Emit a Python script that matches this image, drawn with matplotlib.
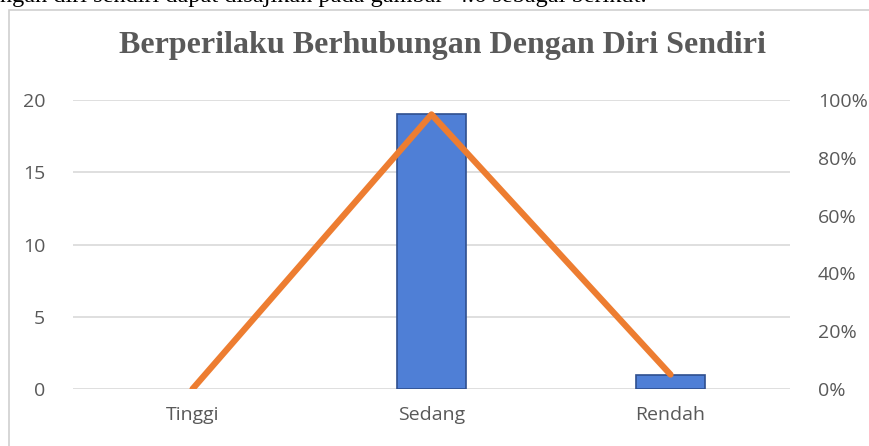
import matplotlib.pyplot as plt
from matplotlib.patches import Rectangle
from matplotlib.ticker import PercentFormatter

# data
kategori = ["Tinggi", "Sedang", "Rendah"]
frekuensi = [0, 19, 1]
persen = [0, 95, 5]

fig = plt.figure(figsize=(8.69, 4.46), dpi=100)

# teks paragraaf die bovenaan wordt afgesneden
fig.text(0.0, 1.0 + 0.008, "ngan diri sendiri dapat disajikan pada gambar  4.6 sebagai berikut.",
         family="Liberation Serif", fontsize=17.5, color="black", va="center", ha="left")

# kader van de grafiek
fig.patches.append(Rectangle((9 / 869, -0.1), 1.2, 1 - 10 / 446 + 0.1, transform=fig.transFigure,
                             fill=False, edgecolor="#D0D0D0", linewidth=1.2))

ax = fig.add_axes([73 / 869, 1 - 389 / 446, 717 / 869, 289 / 446])
x = range(len(kategori))
ax.bar(x, frekuensi, width=0.285, color="#4F7FD6", edgecolor="#2F4F8F",
       linewidth=[1.2 if v > 0 else 0 for v in frekuensi], zorder=2)
ax.set_ylim(0, 20)
ax.set_xlim(-0.5, 2.5)
ax.set_yticks([0, 5, 10, 15, 20])
ax.set_xticks(list(x))
ax.set_xticklabels(kategori)
ax.grid(axis="y", color="#D9D9D9", linewidth=1.2, zorder=0)
for s in ax.spines.values():
    s.set_visible(False)
ax.tick_params(length=0, labelsize=14, colors="#595959", pad=12)
ax.tick_params(axis="y", pad=20)
for lab in ax.get_xticklabels() + ax.get_yticklabels():
    lab.set_family("Open Sans")

ax2 = ax.twinx()
ax2.plot(list(x), persen, color="#ED7D31", linewidth=4.5, solid_capstyle="round", zorder=3)
ax2.set_ylim(0, 100)
ax2.set_yticks([0, 20, 40, 60, 80, 100])
ax2.yaxis.set_major_formatter(PercentFormatter(decimals=0))
for s in ax2.spines.values():
    s.set_visible(False)
ax2.tick_params(length=0, labelsize=14, colors="#595959", pad=20)
for lab in ax2.get_yticklabels():
    lab.set_family("Open Sans")

fig.text(0.5 + 8 / 869, 1 - 45 / 446, "Berperilaku Berhubungan Dengan Diri Sendiri",
         family="Liberation Serif", fontsize=23, fontweight="bold", color="#595959",
         ha="center", va="center")

fig.savefig("out.png", dpi=100)
